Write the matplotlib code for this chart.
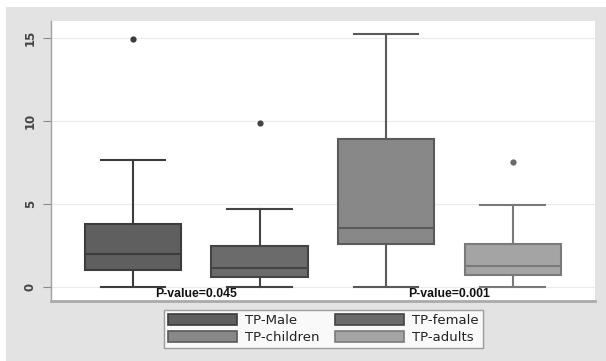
import matplotlib
matplotlib.use("Agg")
import matplotlib.pyplot as plt
from matplotlib.patches import Patch

# Data
groups = ["TP-Male", "TP-female", "TP-children", "TP-adults"]
whislo = [0.0, 0.0, 0.0, 0.0]
q1 = [0.98, 0.60, 2.55, 0.70]
med = [1.95, 1.12, 3.55, 1.24]
q3 = [3.80, 2.43, 8.92, 2.55]
whishi = [7.63, 4.70, 15.24, 4.92]
outliers = [[14.9], [9.84], [], [7.51]]
pvalue_labels = ["P-value=0.045", "P-value=0.001"]
yticks = [0, 5, 10, 15]

fill_colors = ["#5f5f5f", "#6b6b6b", "#888888", "#a4a4a4"]
edge_colors = ["#3c3c3c", "#444444", "#5a5a5a", "#7a7a7a"]

fig = plt.figure(figsize=(6.06, 3.61), dpi=100)
fig.patch.set_facecolor("white")
# outer gray panel
fig.patches.append(plt.Rectangle((6 / 606, 0), 1, 1 - 7 / 361, transform=fig.transFigure,
                                 facecolor="#e3e3e3", edgecolor="none", zorder=-10))

ax = fig.add_axes([50.7 / 606, 1 - 301 / 361, (595 - 50.7) / 606, (301 - 20.7) / 361])
ax.set_facecolor("white")

positions = [1, 2, 3, 4]
for i, g in enumerate(groups):
    stats = [dict(label=g, whislo=whislo[i], q1=q1[i], med=med[i], q3=q3[i],
                  whishi=whishi[i], fliers=outliers[i])]
    ax.bxp(stats, positions=[positions[i]], widths=0.76, patch_artist=True,
           capwidths=0.51, showfliers=True,
           boxprops=dict(facecolor=fill_colors[i], edgecolor=edge_colors[i], linewidth=1.5),
           medianprops=dict(color=edge_colors[i], linewidth=1.5),
           whiskerprops=dict(color=edge_colors[i], linewidth=1.5),
           capprops=dict(color=edge_colors[i], linewidth=1.5),
           flierprops=dict(marker="o", markersize=4.5, markerfacecolor=edge_colors[i] if i < 2 else "#6a6a6a",
                           markeredgecolor="none"))

ax.set_xlim(0.35, 4.65)
ax.set_ylim(-0.86, 16.02)
ax.set_xticks([])
ax.set_yticks(yticks)
ax.set_yticklabels([str(t) for t in yticks], rotation=90, va="center", fontsize=8.5,
                   fontweight="bold", color="#444444")
ax.tick_params(axis="y", length=6, width=0.8, color="#888888", pad=4)
ax.grid(axis="y", color="#eaeaea", linewidth=0.8)
ax.set_axisbelow(True)
for s in ["top", "right"]:
    ax.spines[s].set_visible(False)
ax.spines["left"].set_color("#a0a0a0")
ax.spines["left"].set_linewidth(1.0)
ax.spines["bottom"].set_color("#aaaaaa")
ax.spines["bottom"].set_linewidth(2.0)

ax.text(1.5, -0.42, pvalue_labels[0], ha="center", va="center", fontsize=8.8,
        fontweight="bold", family="Liberation Sans", color="#111111")
ax.text(3.5, -0.42, pvalue_labels[1], ha="center", va="center", fontsize=8.8,
        fontweight="bold", family="Liberation Sans", color="#111111")

handles = [Patch(facecolor=fill_colors[i], edgecolor=edge_colors[i], linewidth=1.2) for i in range(4)]
order = [0, 2, 1, 3]
leg = fig.legend([handles[k] for k in order], [groups[k] for k in order], ncol=2,
                 loc="center", bbox_to_anchor=(323.3 / 606, 1 - 329 / 361),
                 fontsize=9.5, frameon=True, fancybox=False, edgecolor="#888888",
                 handlelength=5.2, handleheight=0.9, handletextpad=0.6,
                 columnspacing=1.2, labelspacing=0.25, borderpad=0.35)
leg.get_frame().set_linewidth(1.0)
for t in leg.get_texts():
    t.set_color("#222222")

fig.savefig("out.png", dpi=100)
